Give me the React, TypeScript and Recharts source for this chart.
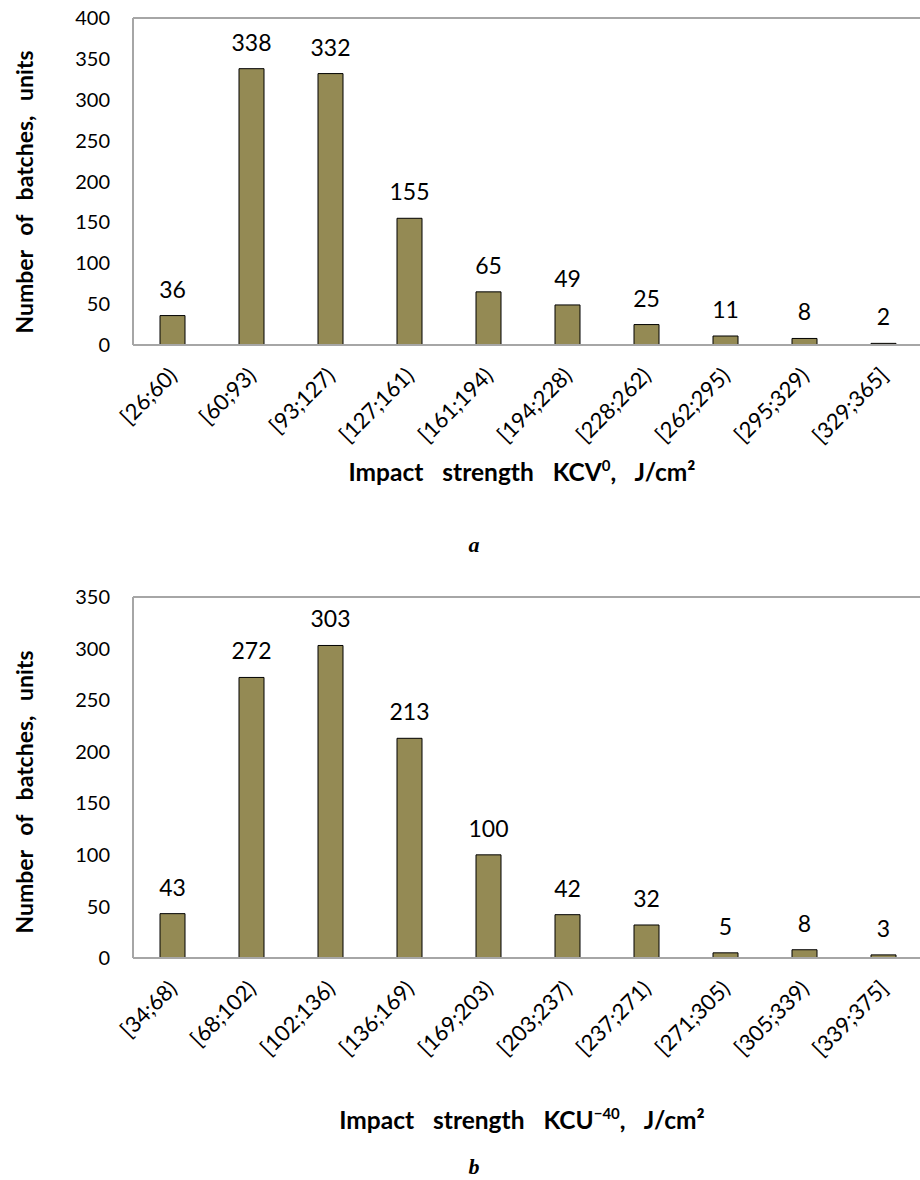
import { BarChart, Bar, XAxis, YAxis, LabelList, ReferenceLine, Label } from 'recharts';

// Histogram a: KCV at 0 °C
const CATEGORIES_A = ['[26;60)', '[60;93)', '[93;127)', '[127;161)', '[161;194)', '[194;228)', '[228;262)', '[262;295)', '[295;329)', '[329;365]'];
const COUNTS_A = [36, 338, 332, 155, 65, 49, 25, 11, 8, 2];
const TICKS_A = [0, 50, 100, 150, 200, 250, 300, 350, 400];

// Histogram b: KCU at -40 °C
const CATEGORIES_B = ['[34;68)', '[68;102)', '[102;136)', '[136;169)', '[169;203)', '[203;237)', '[237;271)', '[271;305)', '[305;339)', '[339;375]'];
const COUNTS_B = [43, 272, 303, 213, 100, 42, 32, 5, 8, 3];
const TICKS_B = [0, 50, 100, 150, 200, 250, 300, 350];

const BAR_FILL = '#948A54';
const FRAME = '#A6A6A6';
const FONT = 'Lato, "Open Sans", sans-serif';

const RotatedTick = ({ x, y, payload }: { x: number; y: number; payload: { value: string } }) => (
  <text
    transform={`translate(${x + 6},${y + 32}) rotate(-45)`}
    textAnchor="end"
    fontSize={22}
    fontFamily={FONT}
    fill="#000"
  >
    {payload.value}
  </text>
);

interface HistProps {
  categories: string[];
  counts: number[];
  ticks: number[];
  top: number;
  height: number;
  plotTop: number;
  plotHeight: number;
  titleMain: string;
  titleSup: string;
  titleY: number;
  caption: string;
  captionY: number;
  yTitleCenter: number;
}

const Histogram = (p: HistProps) => {
  const data = p.categories.map((c, i) => ({ range: c, count: p.counts[i] }));
  const yMax = p.ticks[p.ticks.length - 1];
  const xAxisHeight = p.height - p.plotTop - p.plotHeight;

  return (
    <div style={{ position: 'absolute', left: 0, top: p.top }}>
      <BarChart
        width={1000}
        height={p.height}
        data={data}
        margin={{ top: p.plotTop, right: 77, bottom: 0, left: 0 }}
      >
        <XAxis
          dataKey="range"
          interval={0}
          height={xAxisHeight}
          tickLine={false}
          tickSize={0}
          tickMargin={0}
          axisLine={{ stroke: FRAME, strokeWidth: 2 }}
          tick={RotatedTick as any}
        >
          <Label
            content={() => (
              <g>
                <text
                  x={522}
                  y={p.titleY}
                  textAnchor="middle"
                  fontFamily={FONT}
                  fontWeight={700}
                  fontSize={24.5}
                  fill="#000"
                  style={{ wordSpacing: 13 }}
                >
                  {p.titleMain}
                  <tspan dy={-10} fontSize={15}>{p.titleSup}</tspan>
                  <tspan dy={10}>, J/cm²</tspan>
                </text>
                <text
                  x={474}
                  y={p.captionY}
                  textAnchor="middle"
                  fontFamily='"Liberation Serif", serif'
                  fontWeight={700}
                  fontStyle="italic"
                  fontSize={22}
                  fill="#000"
                >
                  {p.caption}
                </text>
              </g>
            )}
          />
        </XAxis>
        <YAxis
          width={133}
          domain={[0, yMax]}
          ticks={p.ticks}
          interval={0}
          tickLine={false}
          tickSize={0}
          tickMargin={23}
          axisLine={{ stroke: FRAME, strokeWidth: 2 }}
          tick={{ fontSize: 20, fontFamily: FONT, fill: '#000' }}
        >
          <Label
            content={() => (
              <text
                transform={`translate(33,${p.yTitleCenter}) rotate(-90)`}
                textAnchor="middle"
                fontFamily={FONT}
                fontWeight={700}
                fontSize={23}
                fill="#000"
                style={{ wordSpacing: 9 }}
              >
                Number of batches, units
              </text>
            )}
          />
        </YAxis>
        <ReferenceLine y={yMax} stroke={FRAME} strokeWidth={2} />
        <Bar dataKey="count" fill={BAR_FILL} stroke="#000" strokeWidth={1} barSize={25} isAnimationActive={false}>
          <LabelList
            dataKey="count"
            position="top"
            offset={18}
            style={{ fontSize: 23, fontFamily: FONT, fill: '#000' }}
          />
        </Bar>
      </BarChart>
    </div>
  );
};

export default function App() {
  return (
    <div
      style={{
        position: 'absolute',
        left: 0,
        top: 0,
        width: 920,
        height: 1180,
        overflow: 'hidden',
        background: '#fff',
      }}
    >
      <Histogram
        categories={CATEGORIES_A}
        counts={COUNTS_A}
        ticks={TICKS_A}
        top={0}
        height={560}
        plotTop={18}
        plotHeight={327}
        titleMain="Impact strength KCV"
        titleSup="0"
        titleY={481}
        caption="a"
        captionY={552}
        yTitleCenter={192}
      />
      <Histogram
        categories={CATEGORIES_B}
        counts={COUNTS_B}
        ticks={TICKS_B}
        top={560}
        height={620}
        plotTop={37}
        plotHeight={361}
        titleMain="Impact strength KCU"
        titleSup="−40"
        titleY={569}
        caption="b"
        captionY={614}
        yTitleCenter={232}
      />
    </div>
  );
}
